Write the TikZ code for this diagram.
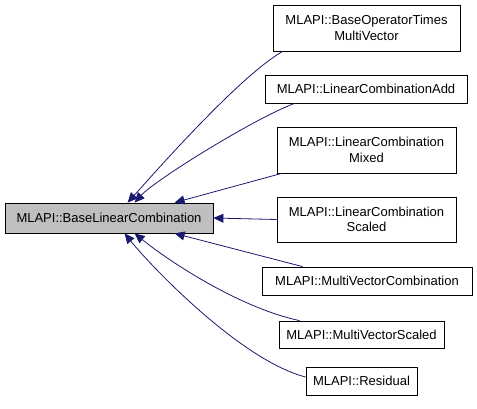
\documentclass[tikz,border=0pt]{standalone}
\usepackage{fontspec}
\setmainfont{Liberation Sans}
\usetikzlibrary{arrows.meta,calc}
\definecolor{edgecol}{HTML}{191970}
\begin{document}
\begin{tikzpicture}[x=1pt,y=-1pt,
  box/.style={draw=black,thick,fill=white,inner sep=0pt,align=center,font=\fontsize{13}{15.5}\selectfont},
  edge/.style={draw=edgecol,thick,{Triangle[length=10pt,width=9pt]}-}]
\useasboundingbox (0,0) rectangle (477,408);
\node[box,fill={rgb,255:red,191;green,191;blue,191},minimum width=208pt,minimum height=30pt] (base) at (109,218) {MLAPI::BaseLinearCombination};
\node[box,minimum width=187pt,minimum height=46pt] (n1) at (366.5,28) {MLAPI::BaseOperatorTimes\\MultiVector};
\node[box,minimum width=202pt,minimum height=28pt] (n2) at (366,89) {MLAPI::LinearCombinationAdd};
\node[box,minimum width=179pt,minimum height=46pt] (n3) at (366.5,150) {MLAPI::LinearCombination\\Mixed};
\node[box,minimum width=179pt,minimum height=45pt] (n4) at (366.5,219.5) {MLAPI::LinearCombination\\Scaled};
\node[box,minimum width=210pt,minimum height=28pt] (n5) at (367,281) {MLAPI::MultiVectorCombination};
\node[box,minimum width=165pt,minimum height=27pt] (n6) at (361.5,334.5) {MLAPI::MultiVectorScaled};
\node[box,minimum width=111pt,minimum height=28pt] (n7) at (361.5,381) {MLAPI::Residual};
% connection points
\coordinate (b1) at ($(base.north west)+(123,0)$);
\coordinate (b2) at ($(base.north west)+(130,0)$);
\coordinate (b3) at ($(base.north west)+(170,0)$);
\coordinate (b5) at ($(base.south west)+(170,0)$);
\coordinate (b6) at ($(base.south west)+(130,0)$);
\coordinate (b7) at ($(base.south west)+(120,0)$);
\coordinate (c1) at ($(n1.south west)+(10,0)$);
\coordinate (c2) at ($(n2.south west)+(30,0)$);
\coordinate (c3) at ($(n3.south west)+(5,0)$);
\coordinate (c5) at ($(n5.north west)+(41,0)$);
\coordinate (c6) at ($(n6.north west)+(21,0)$);
\coordinate (c7) at ($(n7.west)+(0,-4)$);
\draw[edge] (b1) .. controls (150,178) and (238,77) .. (c1);
\draw[edge] (b2) .. controls (155,180) and (255,118) .. (c2);
\draw[edge] (b3) -- (c3);
\draw[edge] (base.east) -- (n4.west);
\draw[edge] (b5) -- (c5);
\draw[edge] (b6) .. controls (170,262) and (240,308) .. (c6);
\draw[edge] (b7) .. controls (150,265) and (240,360) .. (c7);
\end{tikzpicture}
\end{document}
